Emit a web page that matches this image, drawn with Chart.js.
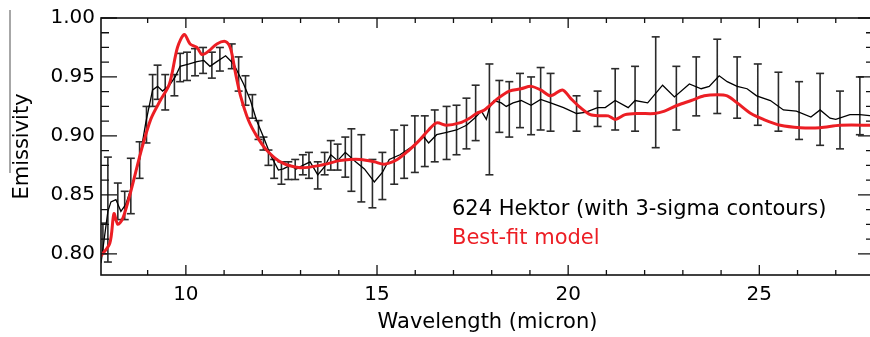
<!DOCTYPE html>
<html>
<head>
<meta charset="utf-8">
<title>624 Hektor emissivity</title>
<script src="https://cdn.jsdelivr.net/npm/chart.js@4.4.1/dist/chart.umd.min.js"></script>
<style>
  html, body { margin: 0; padding: 0; background: #fff; overflow: hidden; }
  canvas { display: block; }
</style>
</head>
<body>
<canvas id="chart-hektor" width="882" height="337" style="width:882px;height:337px"></canvas>
<script>
// ==================================================
// DATA
// ==================================================
const hektorWavelength = [7.78, 7.96, 8.04, 8.17, 8.30, 8.43, 8.56, 8.79, 8.95, 9.13, 9.26, 9.39, 9.57, 9.72, 9.85,
  10.09, 10.29, 10.47, 10.63, 10.81, 11.04, 11.25, 11.51, 11.69, 11.85, 12.03, 12.21, 12.42, 12.55, 12.73, 12.89,
  13.06, 13.25, 13.45, 13.63, 13.79, 13.97, 14.17, 14.44, 14.67, 14.93, 15.14, 15.32, 15.60, 15.97, 16.23, 16.35,
  16.56, 16.82, 17.08, 17.34, 17.55, 17.73, 17.86, 17.94, 18.06, 18.25, 18.38, 18.56, 18.77, 19.03, 19.28, 19.54,
  19.88, 20.22, 20.45, 20.77, 20.97, 21.23, 21.57, 21.75, 22.08, 22.47, 22.78, 23.17, 23.48, 23.69, 23.95, 24.16,
  24.42, 24.68, 24.93, 25.29, 25.63, 25.97, 26.35, 26.59, 26.85, 27.00, 27.37, 27.63, 27.95];
const hektorEmissivity = [0.792, 0.836, 0.844, 0.846, 0.836, 0.842, 0.855, 0.880, 0.911, 0.939, 0.942, 0.938, 0.943, 0.950, 0.959,
  0.961, 0.963, 0.964, 0.959, 0.963, 0.968, 0.961, 0.944, 0.930, 0.913, 0.899, 0.884, 0.871, 0.872, 0.875, 0.872,
  0.875, 0.878, 0.867, 0.874, 0.884, 0.879, 0.886, 0.878, 0.872, 0.861, 0.869, 0.880, 0.884, 0.892, 0.899, 0.894,
  0.901, 0.903, 0.905, 0.909, 0.915, 0.921, 0.914, 0.924, 0.930, 0.928, 0.925, 0.928, 0.930, 0.926, 0.931, 0.928,
  0.924, 0.919, 0.920, 0.924, 0.924, 0.930, 0.924, 0.930, 0.928, 0.943, 0.933, 0.944, 0.940, 0.942, 0.951, 0.946,
  0.942, 0.940, 0.934, 0.930, 0.922, 0.921, 0.916, 0.922, 0.915, 0.914, 0.918, 0.918, 0.917];

// 3-sigma contours
const sigmaWavelength = [7.83, 7.96, 8.22, 8.40, 8.56, 8.79, 8.97, 9.13, 9.26, 9.46, 9.70, 9.85, 10.03, 10.24, 10.45,
  10.68, 10.89, 11.20, 11.38, 11.56, 11.74, 11.90, 12.03, 12.16, 12.31, 12.50, 12.68, 12.86, 13.06, 13.22, 13.45,
  13.63, 13.79, 13.97, 14.17, 14.33, 14.59, 14.88, 15.14, 15.45, 15.71, 15.99, 16.25, 16.51, 16.82, 17.08, 17.34,
  17.58, 17.94, 18.20, 18.46, 18.74, 19.03, 19.28, 19.54, 20.22, 20.77, 21.23, 21.75, 22.29, 22.83, 23.35, 23.90,
  24.42, 24.96, 25.50, 26.04, 26.59, 27.11, 27.63];
const sigmaLow = [0.800, 0.793, 0.829, 0.829, 0.834, 0.864, 0.894, 0.925, 0.931, 0.922, 0.934, 0.946, 0.947, 0.951, 0.953,
  0.949, 0.955, 0.957, 0.938, 0.926, 0.915, 0.897, 0.888, 0.875, 0.864, 0.859, 0.863, 0.863, 0.867, 0.864, 0.855,
  0.867, 0.871, 0.871, 0.865, 0.853, 0.844, 0.839, 0.846, 0.859, 0.864, 0.869, 0.874, 0.878, 0.880, 0.884, 0.889,
  0.896, 0.867, 0.903, 0.899, 0.907, 0.901, 0.905, 0.904, 0.904, 0.908, 0.905, 0.904, 0.890, 0.905, 0.917, 0.919,
  0.915, 0.909, 0.904, 0.897, 0.892, 0.889, 0.901];
const sigmaHigh = [0.826, 0.882, 0.860, 0.853, 0.881, 0.895, 0.925, 0.952, 0.960, 0.952, 0.952, 0.970, 0.971, 0.974, 0.975,
  0.971, 0.975, 0.978, 0.967, 0.951, 0.935, 0.913, 0.899, 0.888, 0.880, 0.878, 0.878, 0.880, 0.884, 0.886, 0.878,
  0.886, 0.896, 0.893, 0.899, 0.906, 0.901, 0.880, 0.886, 0.905, 0.909, 0.917, 0.917, 0.922, 0.925, 0.926, 0.932,
  0.943, 0.961, 0.947, 0.946, 0.953, 0.950, 0.958, 0.953, 0.934, 0.938, 0.957, 0.959, 0.984, 0.959, 0.967, 0.982,
  0.967, 0.961, 0.954, 0.946, 0.953, 0.938, 0.950];

// best-fit model
const modelWavelength = [7.75, 8.01, 8.12, 8.22, 8.35, 8.56, 8.82, 9.08, 9.33, 9.57, 9.78, 9.96, 10.11, 10.29, 10.42,
  10.60, 10.81, 11.04, 11.17, 11.30, 11.43, 11.64, 11.85, 12.11, 12.47, 12.99, 13.51, 14.02, 14.28, 14.57, 14.93,
  15.19, 15.53, 15.84, 16.10, 16.35, 16.56, 16.82, 17.16, 17.42, 17.60, 17.81, 18.17, 18.46, 18.77, 19.03, 19.28,
  19.54, 19.85, 20.06, 20.32, 20.58, 20.84, 21.05, 21.23, 21.49, 21.83, 22.26, 22.52, 22.86, 23.22, 23.56, 23.90,
  24.16, 24.42, 24.78, 25.11, 25.55, 26.07, 26.59, 27.11, 28.00];
const modelEmissivity = [0.797, 0.809, 0.834, 0.825, 0.830, 0.853, 0.886, 0.914, 0.930, 0.944, 0.975, 0.986, 0.978, 0.975, 0.969,
  0.972, 0.978, 0.980, 0.974, 0.953, 0.934, 0.913, 0.900, 0.888, 0.878, 0.873, 0.875, 0.879, 0.880, 0.880, 0.878,
  0.876, 0.880, 0.888, 0.896, 0.905, 0.911, 0.909, 0.911, 0.915, 0.919, 0.922, 0.932, 0.938, 0.940, 0.942, 0.939,
  0.934, 0.939, 0.932, 0.924, 0.918, 0.917, 0.917, 0.914, 0.918, 0.919, 0.919, 0.921, 0.926, 0.930, 0.934, 0.935,
  0.934, 0.928, 0.919, 0.914, 0.909, 0.907, 0.907, 0.909, 0.909];

const xTickLabels = [10, 15, 20, 25];
const yTickLabels = [0.8, 0.85, 0.9, 0.95, 1.0];
const legendLabels = ["624 Hektor (with 3-sigma contours)", "Best-fit model"];

// ==================================================
// HELPERS
// ==================================================
const FONT = "DejaVu Sans";
const RED = "rgb(236, 30, 36)";

const toPoints = (xs, ys) => xs.map((x, i) => ({ x: x, y: ys[i] }));

// every error bar goes low -> high, then a gap
const sigmaPoints = [];
sigmaWavelength.forEach((x, i) => {
  sigmaPoints.push({ x: x, y: sigmaLow[i] });
  sigmaPoints.push({ x: x, y: sigmaHigh[i] });
  sigmaPoints.push({ x: x, y: null });
});

const inList = (value, list) => list.some((v) => Math.abs(v - value) < 1e-6);
const onStep = (value, step) => Math.abs(value / step - Math.round(value / step)) < 1e-6;

// ==================================================
// PLUGINS
// ==================================================
const whiteBackground = {
  id: "whiteBackground",
  beforeDraw(chart) {
    const ctx = chart.ctx;
    ctx.save();
    ctx.fillStyle = "#fff";
    ctx.fillRect(0, 0, chart.width, chart.height);
    ctx.restore();
  },
};

// IDL style box with ticks pointing inwards
const boxTicks = {
  id: "boxTicks",
  afterDraw(chart) {
    const { ctx, chartArea: a, scales } = chart;
    ctx.save();
    ctx.strokeStyle = "#111";
    ctx.lineWidth = 1.6;
    ctx.strokeRect(a.left, a.top, a.right - a.left, a.bottom - a.top);

    ctx.lineWidth = 1.3;
    ctx.beginPath();
    scales.x.ticks.forEach((t) => {
      if (!onStep(t.value, 1)) return;
      const px = scales.x.getPixelForValue(t.value);
      const len = onStep(t.value, 5) ? 10 : 5;
      ctx.moveTo(px, a.bottom);
      ctx.lineTo(px, a.bottom - len);
      ctx.moveTo(px, a.top);
      ctx.lineTo(px, a.top + len);
    });
    scales.y.ticks.forEach((t) => {
      if (!onStep(t.value, 0.0125)) return;
      const py = scales.y.getPixelForValue(t.value);
      const len = onStep(t.value, 0.05) ? 16 : 8;
      ctx.moveTo(a.left, py);
      ctx.lineTo(a.left + len, py);
      ctx.moveTo(a.right, py);
      ctx.lineTo(a.right - len, py);
    });
    ctx.stroke();

    // thin rule left of the panel
    ctx.strokeStyle = "#8a8a8a";
    ctx.lineWidth = 1.5;
    ctx.beginPath();
    ctx.moveTo(10, 10);
    ctx.lineTo(10, 173);
    ctx.stroke();
    ctx.restore();
  },
};

const textLegend = {
  id: "textLegend",
  afterDraw(chart) {
    const ctx = chart.ctx;
    ctx.save();
    ctx.font = "21px '" + FONT + "'";
    ctx.textBaseline = "middle";
    ctx.textAlign = "left";
    ctx.fillStyle = "#000";
    ctx.fillText(legendLabels[0], 452, 210);
    ctx.fillStyle = RED;
    ctx.fillText(legendLabels[1], 452, 239);
    ctx.restore();
  },
};

// ==================================================
// CHART
// ==================================================
const ctx = document.getElementById("chart-hektor").getContext("2d");

const hektorChart = new Chart(ctx, {
  type: "scatter",
  data: {
    datasets: [
      {
        label: legendLabels[1],
        data: toPoints(modelWavelength, modelEmissivity),
        showLine: true,
        borderColor: RED,
        borderWidth: 3,
        pointRadius: 0,
        tension: 0.3,
        order: 1,
      },
      {
        label: legendLabels[0],
        data: toPoints(hektorWavelength, hektorEmissivity),
        showLine: true,
        borderColor: "#000",
        borderWidth: 1.3,
        pointRadius: 0,
        tension: 0,
        order: 2,
      },
      {
        label: "3-sigma",
        data: sigmaPoints,
        showLine: true,
        spanGaps: false,
        borderColor: "#2b2b2b",
        borderWidth: 1.6,
        pointStyle: "line",
        pointRadius: 4,
        pointBorderWidth: 1.6,
        pointBorderColor: "#2b2b2b",
        order: 3,
      },
    ],
  },
  options: {
    responsive: false,
    animation: false,
    devicePixelRatio: 1,
    events: [],
    layout: { padding: { top: 14, left: 0, right: 0, bottom: 0 } },
    plugins: {
      legend: { display: false },
      tooltip: { enabled: false },
    },
    scales: {
      x: {
        type: "linear",
        min: 7.78,
        max: 28,
        afterFit: (scale) => {
          scale.height = 62;
        },
        grid: { display: false, drawTicks: false },
        border: { display: false },
        ticks: {
          stepSize: 1,
          autoSkip: false,
          maxRotation: 0,
          padding: 8,
          color: "#000",
          font: { family: FONT, size: 20 },
          callback: (value) => (inList(value, xTickLabels) ? String(value) : ""),
        },
        title: {
          display: true,
          text: "Wavelength (micron)",
          color: "#000",
          font: { family: FONT, size: 21 },
          padding: { top: 0, bottom: 2 },
        },
      },
      y: {
        type: "linear",
        min: 0.782,
        max: 1.0,
        afterFit: (scale) => {
          scale.width = 101;
        },
        grid: { display: false, drawTicks: false },
        border: { display: false },
        ticks: {
          stepSize: 0.0125,
          autoSkip: false,
          padding: 6,
          color: "#000",
          font: { family: FONT, size: 20 },
          callback: (value) => (inList(value, yTickLabels) ? value.toFixed(2) : ""),
        },
        title: {
          display: true,
          text: "Emissivity",
          color: "#000",
          font: { family: FONT, size: 21 },
          padding: { top: 10, bottom: 0 },
        },
      },
    },
  },
  plugins: [whiteBackground, boxTicks, textLegend],
});
</script>
</body>
</html>
